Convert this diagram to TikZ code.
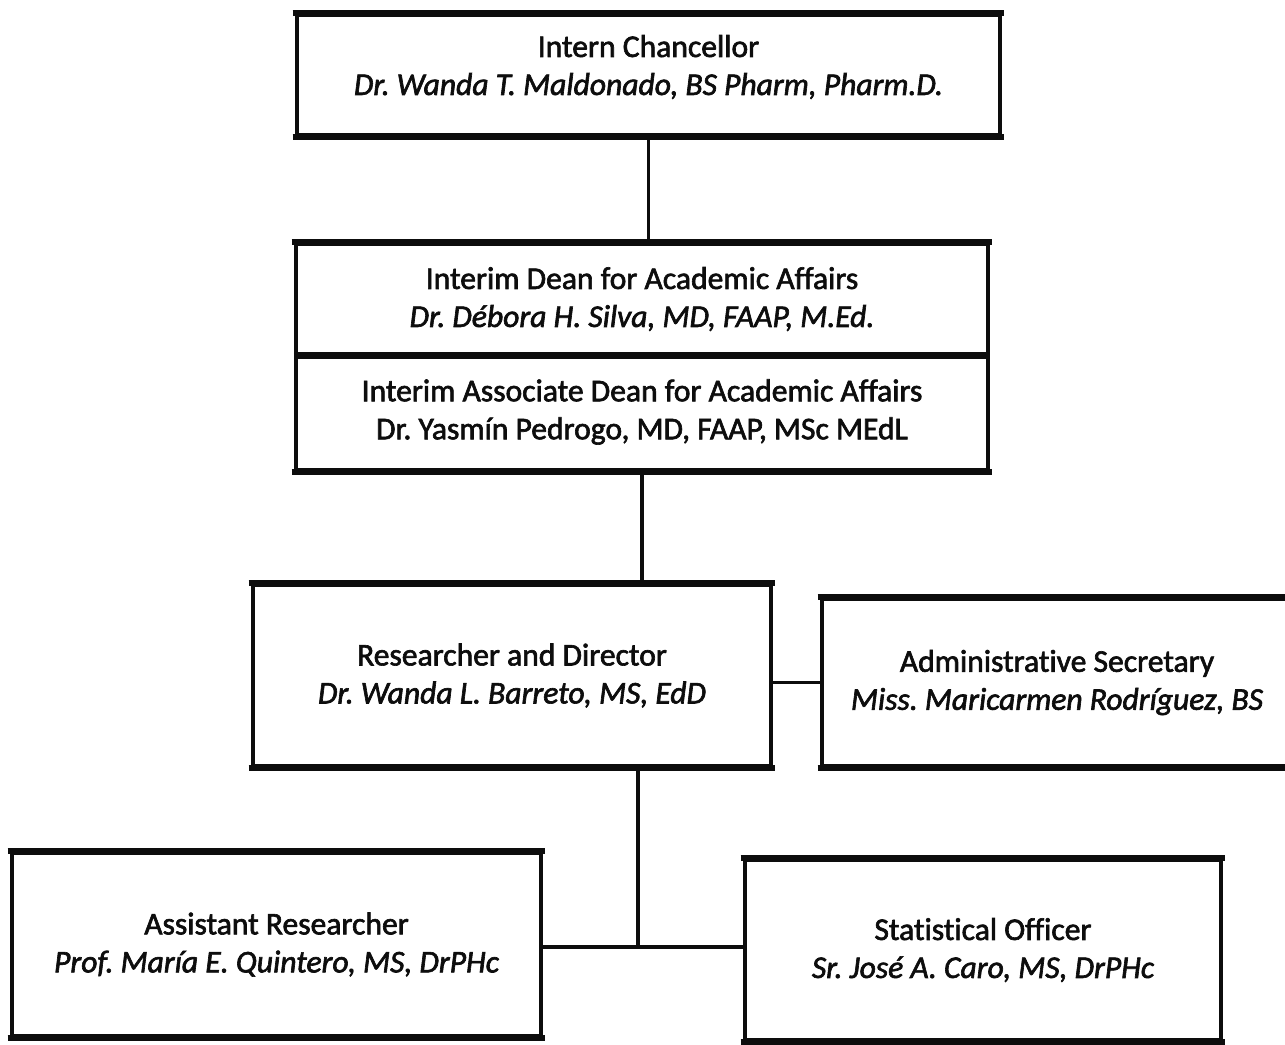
\documentclass[tikz,border=0pt]{standalone}
\usepackage{fontspec}
\setmainfont{Carlito}[Ligatures={NoCommon},BoldFont=Carlito,BoldItalicFont=Carlito Italic,BoldFeatures={FakeBold=2},BoldItalicFeatures={FakeBold=2}]
\frenchspacing
\begin{document}
\begin{tikzpicture}[x=0.75pt,y=-0.75pt,
  ink/.style={draw=gray!10!black},
  orgbox/.style={ink,line width=3.2pt,align=center,inner sep=0pt,
    font=\fontsize{23.7}{28.5}\selectfont\bfseries,text=gray!10!black},
  edgeline/.style={ink,line width=5pt},
  divline/.style={ink,line width=4pt},
  conn/.style={ink,line width=2.4pt}]
\useasboundingbox[fill=white] (0,0) rectangle (1285,1045);
\node[orgbox,minimum width={703*0.75pt},minimum height={120*0.75pt}] (chan) at (648.5,75)
  {Intern Chancellor\\\textit{Dr. Wanda T. Maldonado, BS Pharm, Pharm.D.}\rule[-15pt]{0pt}{0pt}};
\node[orgbox,minimum width={692*0.75pt},minimum height={110*0.75pt}] (dean) at (642,299)
  {Interim Dean for Academic Affairs\\\textit{Dr. Débora H. Silva, MD, FAAP, M.Ed.}};
\node[orgbox,minimum width={692*0.75pt},minimum height={116*0.75pt}] (assoc) at (642,412)
  {Interim Associate Dean for Academic Affairs\\Dr. Yasmín Pedrogo, MD, FAAP, MSc MEdL};
\node[orgbox,minimum width={518*0.75pt},minimum height={181*0.75pt}] (res) at (512,675.5)
  {Researcher and Director\\\textit{Dr. Wanda L. Barreto, MS, EdD}};
\node[orgbox,minimum width={470*0.75pt},minimum height={167*0.75pt}] (admin) at (1057,682.5)
  {Administrative Secretary\\\textit{Miss. Maricarmen Rodríguez, BS}};
\node[orgbox,minimum width={529*0.75pt},minimum height={183*0.75pt}] (asst) at (276.5,944.5)
  {Assistant Researcher\\\textit{Prof. María E. Quintero, MS, DrPHc}};
\node[orgbox,minimum width={476*0.75pt},minimum height={180*0.75pt}] (stat) at (983,950)
  {Statistical Officer\\\textit{Sr. José A. Caro, MS, DrPHc}};
\foreach \n in {chan,dean,res,admin,asst,stat}{
  \draw[edgeline] ([xshift=-1.6pt]\n.north west) -- ([xshift=1.6pt]\n.north east);
}
\foreach \n in {chan,assoc,res,admin,asst,stat}{
  \draw[edgeline] ([xshift=-1.6pt]\n.south west) -- ([xshift=1.6pt]\n.south east);
}
\draw[divline] (dean.south west) -- (dean.south east);
\coordinate (junc) at (638,947);
\draw[conn] (chan.south) -- (chan.south |- dean.north);
\draw[conn] (assoc.south) -- (assoc.south |- res.north);
\draw[conn] (admin.west -| res.east) -- (admin.west);
\draw[conn] (res.south -| junc) -- (junc);
\draw[conn] (asst.east |- junc) -- (stat.west |- junc);
\end{tikzpicture}
\end{document}
